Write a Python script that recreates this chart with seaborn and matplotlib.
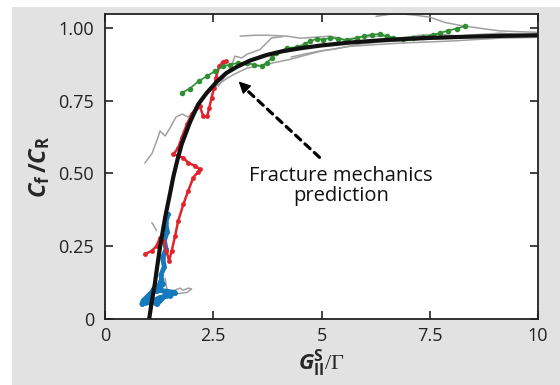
import numpy as np
import pandas as pd
import seaborn as sns
import matplotlib.pyplot as plt
from matplotlib.patches import Rectangle

# fracture mechanics prediction
pred_x = [1.02, 1.08, 1.15, 1.21, 1.27, 1.39, 1.5, 1.58, 1.67, 1.77, 1.96, 2.15, 2.35, 2.58,
          2.8, 3.04, 3.35, 3.73, 4.1, 4.5, 5.0, 5.66, 6.4, 7.3, 8.35, 9.2, 10.0]
pred_y = [0.0, 0.06, 0.12, 0.185, 0.246, 0.35, 0.43, 0.49, 0.545, 0.6, 0.675, 0.737, 0.777, 0.815,
          0.845, 0.866, 0.888, 0.907, 0.92, 0.93, 0.94, 0.95, 0.958, 0.965, 0.97, 0.973, 0.975]

# green run
green_x = [1.77, 1.96, 2.16, 2.35, 2.54, 2.73, 2.89, 3.08, 3.27, 3.43, 3.62, 3.73, 3.85, 3.96,
           4.20, 4.43, 4.62, 4.73, 4.89, 5.04, 5.20, 5.39, 5.58, 5.81, 5.97, 6.16, 6.35, 6.51,
           6.66, 6.89, 7.12, 7.35, 7.58, 7.74, 7.93, 8.12, 8.31]
green_y = [0.777, 0.792, 0.817, 0.834, 0.852, 0.869, 0.874, 0.88, 0.88, 0.874, 0.869, 0.88, 0.897,
           0.914, 0.931, 0.934, 0.945, 0.954, 0.963, 0.96, 0.966, 0.963, 0.957, 0.966, 0.972,
           0.977, 0.979, 0.972, 0.966, 0.963, 0.966, 0.968, 0.977, 0.983, 0.991, 0.998, 1.006]

# red run
red_x = [0.92, 1.08, 1.19, 1.27, 1.35, 1.42, 1.48, 1.54, 1.62, 1.69, 1.81, 1.92, 2.04, 2.15, 2.19,
         2.08, 1.92, 1.81, 1.58, 1.69, 1.77, 1.89, 2.00, 2.10, 2.19, 2.27, 2.36, 2.41, 2.46, 2.52,
         2.56, 2.64, 2.72, 2.79]
red_y = [0.223, 0.234, 0.251, 0.28, 0.269, 0.234, 0.2, 0.234, 0.286, 0.337, 0.394, 0.44, 0.486,
         0.506, 0.514, 0.526, 0.537, 0.554, 0.566, 0.588, 0.623, 0.669, 0.703, 0.726, 0.731, 0.697,
         0.697, 0.726, 0.76, 0.794, 0.829, 0.869, 0.883, 0.886]

# blue run
blue_x = [1.46, 1.40, 1.44, 1.37, 1.41, 1.33, 1.37, 1.29, 1.33, 1.25, 1.29, 1.19, 1.04, 0.88,
          0.85, 1.04, 1.27, 1.50, 1.62, 1.35, 1.12, 1.0, 1.2, 1.42]
blue_y = [0.36, 0.33, 0.30, 0.27, 0.24, 0.21, 0.18, 0.15, 0.12, 0.10, 0.13, 0.097, 0.086, 0.063,
          0.051, 0.057, 0.074, 0.08, 0.091, 0.097, 0.103, 0.07, 0.05, 0.085]

# grey runs
grey_a_x = [0.92, 1.09, 1.22, 1.27, 1.39, 1.50, 1.64, 1.78, 1.92, 2.06, 2.19, 2.38, 2.56, 2.79,
            2.98, 3.28, 3.53, 3.72, 4.27, 4.97, 5.66, 6.81, 7.97, 9.12, 10.0]
grey_a_y = [0.536, 0.57, 0.622, 0.646, 0.629, 0.656, 0.694, 0.704, 0.694, 0.715, 0.749, 0.776,
            0.8, 0.824, 0.841, 0.862, 0.869, 0.875, 0.892, 0.92, 0.937, 0.948, 0.955, 0.965, 0.968]
grey_b_x = [3.12, 3.46, 3.74, 4.20, 4.50, 4.85, 5.20, 5.54, 5.89, 6.35, 6.81, 7.27, 7.74, 8.20,
            8.66, 9.12, 9.58, 10.0]
grey_b_y = [0.972, 0.975, 0.975, 0.972, 0.965, 0.968, 0.972, 0.961, 0.968, 0.972, 0.965, 0.975,
            0.978, 0.972, 0.978, 0.982, 0.978, 0.978]
grey_c_x = [6.26, 6.58, 6.81, 7.16, 7.51, 7.85, 8.20, 8.66, 9.12, 9.58, 10.0]
grey_c_y = [1.04, 1.047, 1.049, 1.044, 1.037, 1.019, 1.009, 0.999, 0.99, 0.987, 0.985]
grey_d_x = [4.3, 4.6, 4.97, 5.27, 5.58, 5.9, 6.4, 7.0, 7.6, 8.3, 9.0, 10.0]
grey_d_y = [0.9, 0.91, 0.921, 0.927, 0.936, 0.945, 0.952, 0.957, 0.962, 0.966, 0.968, 0.97]
grey_e_x = [2.62, 2.75, 2.93, 3.0, 3.16, 3.27, 3.58, 3.85, 4.1]
grey_e_y = [0.8, 0.83, 0.874, 0.903, 0.897, 0.909, 0.926, 0.966, 0.97]
grey_f_x = [1.08, 1.13, 1.19]
grey_f_y = [0.331, 0.32, 0.303]
grey_g_x = [1.39, 1.42, 1.47, 1.58, 1.73, 1.81, 1.92, 2.0, 1.89, 1.73, 1.58]
grey_g_y = [0.14, 0.11, 0.095, 0.097, 0.106, 0.099, 0.106, 0.103, 0.091, 0.088, 0.086]

sns.set_style('ticks')
plt.rcParams['font.family'] = ['Open Sans', 'DejaVu Sans']
plt.rcParams['mathtext.fontset'] = 'custom'
plt.rcParams['mathtext.rm'] = 'Liberation Serif'
plt.rcParams['mathtext.bf'] = 'Open Sans:bold'
plt.rcParams['mathtext.it'] = 'Open Sans:italic'
plt.rcParams['mathtext.bfit'] = 'Open Sans:italic:bold'

fig = plt.figure(figsize=(5.6, 3.85), dpi=100, facecolor='white')
bg = Rectangle((12 / 560, 0), 1, 1 - 7 / 385, transform=fig.transFigure,
               facecolor='#e2e2e2', edgecolor='none', zorder=-10)
fig.patches.append(bg)
ax = fig.add_axes([105 / 560, 1 - 319 / 385, 433 / 560, 305 / 385])
ax.set_facecolor('white')

greys = [(grey_a_x, grey_a_y), (grey_b_x, grey_b_y), (grey_c_x, grey_c_y), (grey_d_x, grey_d_y),
         (grey_e_x, grey_e_y), (grey_f_x, grey_f_y), (grey_g_x, grey_g_y)]
for gx, gy in greys:
    sns.lineplot(x=gx, y=gy, sort=False, estimator=None, color='#a0a0a0', lw=1.1, ax=ax)

sns.lineplot(x=blue_x, y=blue_y, sort=False, estimator=None, color='#1479bd', lw=3.5,
             marker='o', markersize=3.5, markeredgewidth=0, ax=ax)
sns.lineplot(x=red_x, y=red_y, sort=False, estimator=None, color='#e0262c', lw=1.8,
             marker='o', markersize=3.5, markeredgewidth=0, ax=ax)
sns.lineplot(x=green_x, y=green_y, sort=False, estimator=None, color='#2f8f34', lw=1.2,
             marker='o', markersize=4, markeredgewidth=0, ax=ax)
sns.lineplot(x=pred_x, y=pred_y, sort=False, estimator=None, color='#111111', lw=3, ax=ax)

# dashed arrow pointing at the curve
ax.annotate('', xy=(3.25, 0.79), xytext=(5.0, 0.549),
            arrowprops=dict(arrowstyle='-', lw=2.3, ls=(0, (2.2, 1.8)), color='black'))
ax.annotate('', xy=(3.04, 0.823), xytext=(3.3, 0.785),
            arrowprops=dict(arrowstyle='-|>', lw=1, color='black', mutation_scale=18))
ax.text(5.45, 0.457, 'Fracture mechanics\nprediction', ha='center', va='center',
        fontsize=14.5, linespacing=1.05, color='#111111')

ax.set_xlim(0, 10)
ax.set_ylim(0, 1.048)
ax.set_xticks([0, 2.5, 5, 7.5, 10])
ax.set_xticklabels(['0', '2.5', '5', '7.5', '10'])
ax.set_yticks([0, 0.25, 0.5, 0.75, 1.0])
ax.set_yticklabels(['0', '0.25', '0.50', '0.75', '1.00'])
ax.tick_params(direction='in', top=True, right=True, length=6, width=1.2, labelsize=13,
               colors='#222222')
ax.tick_params(axis='x', pad=6)
ax.tick_params(axis='y', pad=8)
for s in ax.spines.values():
    s.set_visible(True)
    s.set_linewidth(1.3)
    s.set_color('#222222')

ax.set_xlabel(r'$\mathbfit{G}_{\mathbf{II}}^{\mathbf{S}}/\Gamma$', fontsize=16, labelpad=1)
ax.set_ylabel(r'$\mathbfit{C}_{\mathbf{f}}\,\mathbf{/}\mathbfit{C}_{\mathbf{R}}$', fontsize=17,
              labelpad=4)

fig.savefig('out.png', dpi=100, facecolor=fig.get_facecolor())
